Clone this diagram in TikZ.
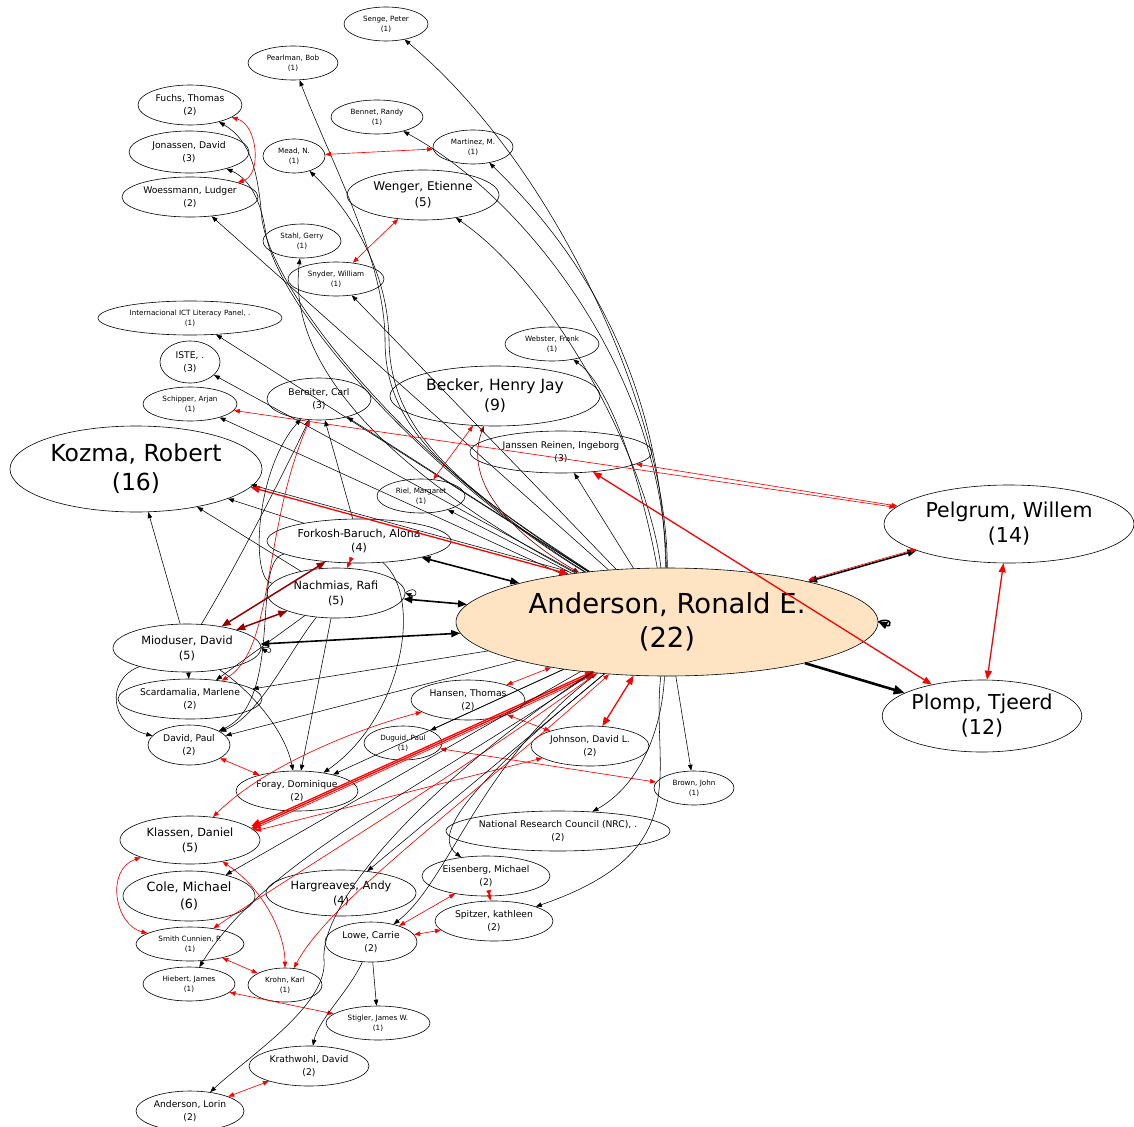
\documentclass[tikz,border=0pt]{standalone}
\usepackage{fontspec}
\setmainfont{DejaVu Sans}
\usetikzlibrary{shapes.geometric,arrows.meta}
\definecolor{bisq}{RGB}{255,228,196}
\definecolor{dred}{RGB}{150,0,0}
\begin{document}
\begin{tikzpicture}[x=1pt,y=-1pt,
  nd/.style={ellipse,draw,line width=0.6pt,inner sep=0pt,align=center},
  fa/.style={font=\fontsize{7.2}{10}\selectfont},
  fb/.style={font=\fontsize{9.2}{12.5}\selectfont},
  fc/.style={font=\fontsize{11.3}{15}\selectfont},
  tp/.tip={Triangle[length=6pt,width=4.5pt]},
  tq/.tip={Triangle[length=9pt,width=7pt]},
  bk/.style={draw=black,line width=0.55pt,-tp},
  bkb/.style={draw=black,line width=1.6pt,tq-tq},
  rd/.style={draw=red,line width=0.65pt,tp-tp},
  rdk/.style={draw=red,line width=1.3pt,tq-tq},
  drk/.style={draw=dred,line width=1.5pt,tq-tq}]
\useasboundingbox (0,0) rectangle (1134,1126);

% ---------- authors ----------
\node[nd,fa,minimum width=84,minimum height=34] (senge) at (386,24) {Senge, Peter\\(1)};
\node[nd,fa,minimum width=90,minimum height=34] (pearlman) at (293,63) {Pearlman, Bob\\(1)};
\node[nd,fb,minimum width=104,minimum height=40] (fuchs) at (190,105) {Fuchs, Thomas\\(2)};
\node[nd,fb,minimum width=120,minimum height=42] (jonassen) at (189,152) {Jonassen, David\\(3)};
\node[nd,fb,minimum width=136,minimum height=40] (woess) at (190,197) {Woessmann, Ludger\\(2)};
\node[nd,fa,minimum width=92,minimum height=34] (bennet) at (377,117) {Bennet, Randy\\(1)};
\node[nd,fa,minimum width=62,minimum height=34] (mead) at (294,156) {Mead, N.\\(1)};
\node[nd,fa,minimum width=80,minimum height=34] (martinez) at (473,147) {Martinez, M.\\(1)};
\node[nd,minimum width=152,minimum height=50,font=\fontsize{12}{16}\selectfont] (wenger) at (423,195) {Wenger, Etienne\\(5)};
\node[nd,fa,minimum width=78,minimum height=34] (stahl) at (302,241) {Stahl, Gerry\\(1)};
\node[nd,fa,minimum width=96,minimum height=34] (snyder) at (336,279) {Snyder, William\\(1)};
\node[nd,fa,minimum width=184,minimum height=34] (ict) at (190,318) {Internacional ICT Literacy Panel, .\\(1)};
\node[nd,fb,minimum width=60,minimum height=42] (iste) at (190,362) {ISTE, .\\(3)};
\node[nd,fa,minimum width=94,minimum height=34] (schipper) at (190,404) {Schipper, Arjan\\(1)};
\node[nd,fb,minimum width=104,minimum height=42] (bereiter) at (319,399) {Bereiter, Carl\\(3)};
\node[nd,minimum width=210,minimum height=60,font=\fontsize{15.5}{20}\selectfont] (becker) at (495,396) {Becker, Henry Jay\\(9)};
\node[nd,fa,minimum width=94,minimum height=34] (webster) at (552,344) {Webster, Frank\\(1)};
\node[nd,fb,minimum width=182,minimum height=42] (janssen) at (561,452) {Janssen Reinen, Ingeborg\\(3)};
\node[nd,minimum width=252,minimum height=86,font=\fontsize{23.5}{29}\selectfont] (kozma) at (136,469) {Kozma, Robert\\(16)};
\node[nd,fa,minimum width=88,minimum height=34] (riel) at (421,496) {Riel, Margaret\\(1)};
\node[nd,minimum width=184,minimum height=44,font=\fontsize{11}{14.5}\selectfont] (forkosh) at (359,541) {Forkosh-Baruch, Alona\\(4)};
\node[nd,fc,minimum width=138,minimum height=50] (nachmias) at (336,593) {Nachmias, Rafi\\(5)};
\node[nd,fc,minimum width=148,minimum height=48] (mioduser) at (187,648) {Mioduser, David\\(5)};
\node[nd,fill=bisq,minimum width=422,minimum height=108,font=\fontsize{27.5}{34}\selectfont] (an) at (667,622) {Anderson, Ronald E.\\(22)};
\node[nd,minimum width=250,minimum height=78,font=\fontsize{20.5}{25}\selectfont] (pelgrum) at (1009,524) {Pelgrum, Willem\\(14)};
\node[nd,minimum width=196,minimum height=72,font=\fontsize{20.5}{25}\selectfont] (plomp) at (982,716) {Plomp, Tjeerd\\(12)};
\node[nd,fb,minimum width=144,minimum height=40] (scarda) at (190,699) {Scardamalia, Marlene\\(2)};
\node[nd,fb,minimum width=82,minimum height=40] (davidp) at (189,745) {David, Paul\\(2)};
\node[nd,fb,minimum width=114,minimum height=40] (hansen) at (468,700) {Hansen, Thomas\\(2)};
\node[nd,fa,minimum width=78,minimum height=34] (duguid) at (403,743) {Duguid, Paul\\(1)};
\node[nd,fb,minimum width=118,minimum height=40] (johnson) at (590,746) {Johnson, David L.\\(2)};
\node[nd,fa,minimum width=80,minimum height=34] (brown) at (694,788) {Brown, John\\(1)};
\node[nd,fb,minimum width=122,minimum height=40] (foray) at (297,791) {Foray, Dominique\\(2)};
\node[nd,fb,minimum width=222,minimum height=40] (nrc) at (558,831) {National Research Council (NRC), .\\(2)};
\node[nd,fc,minimum width=140,minimum height=48] (klassen) at (190,840) {Klassen, Daniel\\(5)};
\node[nd,minimum width=132,minimum height=50,font=\fontsize{12.7}{16.5}\selectfont] (cole) at (189,896) {Cole, Michael\\(6)};
\node[nd,fc,minimum width=150,minimum height=46] (hargreaves) at (341,893) {Hargreaves, Andy\\(4)};
\node[nd,fb,minimum width=128,minimum height=40] (eisenberg) at (486,876) {Eisenberg, Michael\\(2)};
\node[nd,fb,minimum width=118,minimum height=40] (spitzer) at (494,921) {Spitzer, kathleen\\(2)};
\node[nd,fb,minimum width=92,minimum height=40] (lowe) at (371,942) {Lowe, Carrie\\(2)};
\node[nd,fa,minimum width=108,minimum height=34] (smith) at (190,944) {Smith Cunnien, P.\\(1)};
\node[nd,fa,minimum width=92,minimum height=34] (hiebert) at (189,984) {Hiebert, James\\(1)};
\node[nd,fa,minimum width=74,minimum height=34] (krohn) at (285,985) {Krohn, Karl\\(1)};
\node[nd,fa,minimum width=104,minimum height=34] (stigler) at (378,1023) {Stigler, James W.\\(1)};
\node[nd,fb,minimum width=120,minimum height=40] (krathwohl) at (309,1066) {Krathwohl, David\\(2)};
\node[nd,fb,minimum width=108,minimum height=40] (lorin) at (190,1111) {Anderson, Lorin\\(2)};

% ---------- citations from the central author, upper half ----------
\draw[bk] (an) .. controls (668,420) and (560,170) .. (senge);
\draw[bk] (an) .. controls (662,400) and (600,270) .. (martinez);
\draw[bk] (an) .. controls (664,380) and (530,200) .. (bennet);
\draw[bk] (an) .. controls (650,470) and (560,290) .. (wenger);
\draw[bk] (an) .. controls (645,500) and (615,390) .. (webster);
\draw[bk] (an) -- (janssen);
\draw[bk] (an) .. controls (450,480) and (385,430) .. (385,340) .. controls (385,260) and (330,160) .. (pearlman);
\draw[bk] (an) .. controls (455,485) and (390,430) .. (389,340) .. controls (388,270) and (350,210) .. (mead);
\draw[bk] (an) .. controls (420,490) and (285,380) .. (stahl);
\draw[bk] (an) -- (snyder);
\draw[bk] (an) .. controls (420,470) and (275,300) .. (262,220) .. controls (258,170) and (250,140) .. (fuchs);
\draw[bk] (an) .. controls (425,475) and (280,310) .. (266,235) .. controls (262,205) and (252,180) .. (jonassen);
\draw[bk] (an) -- (woess);
\draw[bk] (an) -- (ict);
\draw[bk] (an) -- (iste);
\draw[bk] (an) -- (schipper);
\draw[bk] (an) -- (bereiter);
\draw[bk] (an) -- (riel);
\draw[bkb] (an) -- (forkosh);
\draw[bkb] (an) -- (nachmias);
\draw[bkb] (an) -- (mioduser);
\draw[bk,transform canvas={yshift=2.5pt}] (an.154) -- (kozma.-9);
\draw[rdk] (an.154) -- (kozma.-9);
\draw[bkb] (an) -- (pelgrum);
\draw[rd,transform canvas={yshift=1.5pt}] (an) -- (pelgrum);
\draw[draw=black,line width=2.6pt,-{Triangle[length=11pt,width=9pt]}] (an) -- (plomp);
\draw[draw=black,line width=1.6pt,-tq] (an.east) .. controls +(14,-6) and +(14,6) .. (an.east);

% ---------- co-authorship links, upper half ----------
\draw[rdk] (janssen) -- (plomp);
\draw[rdk] (pelgrum) -- (plomp);
\draw[rd] (schipper) -- (pelgrum);
\draw[rd] (janssen) -- (pelgrum);
\draw[rd] (becker) -- (riel);
\draw[rd,draw=dred] (becker) .. controls (460,490) and (530,545) .. (an);
\draw[rd] (wenger) -- (snyder);
\draw[rd] (mead) -- (martinez);
\draw[rd] (fuchs) .. controls (258,125) and (262,175) .. (woess);

% ---------- around Kozma, Forkosh-Baruch, Nachmias, Mioduser ----------
\draw[bk] (mioduser) -- (kozma);
\draw[bk] (nachmias) -- (kozma);
\draw[bk] (forkosh) -- (kozma);
\draw[bk] (mioduser) .. controls (240,560) and (290,460) .. (bereiter);
\draw[bk] (nachmias) .. controls (250,580) and (255,470) .. (bereiter);
\draw[bk] (forkosh) -- (bereiter);
\draw[rd] (bereiter) .. controls (262,530) and (275,650) .. (scarda);
\draw[drk] (forkosh) -- (mioduser);
\draw[drk] (nachmias) -- (mioduser);
\draw[rd] (forkosh) -- (nachmias);
\draw[bk] (nachmias.east) .. controls +(12,-10) and +(14,6) .. (nachmias.east);
\draw[bk] (mioduser.east) .. controls +(12,-4) and +(12,8) .. (mioduser.east);

% ---------- lower left cluster ----------
\draw[bk] (mioduser) -- (scarda);
\draw[bk] (mioduser) .. controls (105,680) and (110,725) .. (davidp);
\draw[bk] (mioduser) .. controls (250,690) and (285,730) .. (foray);
\draw[bk] (nachmias) -- (scarda);
\draw[bk] (nachmias) .. controls (290,650) and (260,715) .. (davidp);
\draw[bk] (forkosh) .. controls (250,560) and (285,700) .. (davidp);
\draw[bk] (nachmias) -- (foray);
\draw[bk] (forkosh) .. controls (425,600) and (400,720) .. (foray);
\draw[bk] (an) -- (scarda);
\draw[bk] (an) -- (davidp);
\draw[rd] (an) -- (hansen);
\draw[bk] (an) -- (duguid);
\draw[bk] (an) -- (foray);
\draw[rdk] (an) -- (johnson);
\draw[rd] (hansen) -- (johnson);
\draw[rd] (duguid) -- (brown);
\draw[bk] (an) -- (brown);
\draw[bk] (an) .. controls (662,730) and (640,785) .. (nrc);
\draw[bk] (an) .. controls (650,770) and (700,850) .. (spitzer);
\draw[rd] (klassen) .. controls (265,765) and (360,728) .. (hansen);
\draw[rd] (davidp) -- (foray);
\draw[rdk] (an.215) -- (klassen.11);
\draw[rdk,transform canvas={yshift=2pt}] (an.215) -- (klassen.11);
\draw[rd,transform canvas={yshift=-2pt}] (an.215) -- (klassen.11);
\draw[rd] (klassen.8) -- (johnson);
\draw[bk] (an) -- (cole);
\draw[bk] (an) -- (hargreaves);
\draw[rd] (an) .. controls (450,780) and (300,870) .. (smith);
\draw[bk] (an) .. controls (500,760) and (425,830) .. (eisenberg);
\draw[bk] (an) .. controls (480,760) and (450,880) .. (lowe);
\draw[bk] (an) .. controls (420,790) and (265,860) .. (hiebert);
\draw[rd] (klassen) .. controls (105,870) and (115,925) .. (smith);
\draw[rd] (klassen) .. controls (265,890) and (285,935) .. (krohn);
\draw[rd] (an) .. controls (470,800) and (330,900) .. (krohn);
\draw[rd] (smith) -- (krohn);
\draw[rd] (hiebert) -- (stigler);
\draw[bk] (lowe) -- (stigler);
\draw[bk] (lowe) .. controls (350,990) and (318,1020) .. (krathwohl);
\draw[bk] (an) .. controls (430,780) and (320,900) .. (324,960) .. controls (328,1005) and (250,1055) .. (lorin);
\draw[rd] (krathwohl) -- (lorin);
\draw[rd] (eisenberg) -- (lowe);
\draw[rd] (eisenberg) -- (spitzer);
\draw[rd] (lowe) -- (spitzer);
\end{tikzpicture}
\end{document}
